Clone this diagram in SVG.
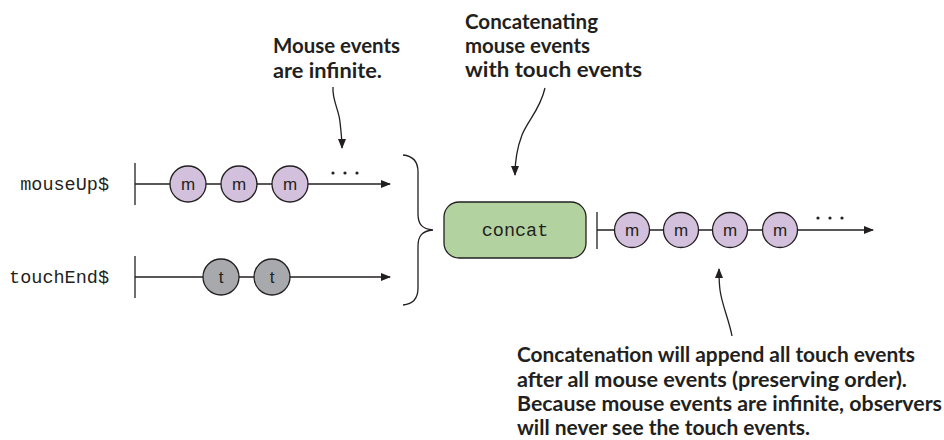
<svg xmlns="http://www.w3.org/2000/svg" width="944" height="440" viewBox="0 0 944 440">
<defs>
<marker id="ah" markerWidth="10" markerHeight="8" refX="9" refY="4" orient="auto" markerUnits="userSpaceOnUse">
<path d="M0,0 L10,4 L0,8 Z" fill="#231f20"/>
</marker>
<style>
.lbl{font-family:Lato,"Open Sans","Liberation Sans",sans-serif;font-weight:700;font-size:21px;fill:#231f20}
.mono{font-family:"Liberation Mono","DejaVu Sans Mono",monospace;font-size:18.5px;fill:#231f20}
.ev{font-family:"Liberation Sans",Arial,sans-serif;font-size:17px;fill:#231f20;text-anchor:middle}
.line{stroke:#231f20;stroke-width:1.3;fill:none}
.m{fill:#d3c0dd;stroke:#231f20;stroke-width:1.3}
.t{fill:#a7a9ac;stroke:#231f20;stroke-width:1.3}
.dots{fill:#231f20}
</style>
</defs>
<rect width="944" height="440" fill="#ffffff"/>

<g id="mouseUp">
<text class="mono" x="109" y="190" text-anchor="end">mouseUp$</text>
<line class="line" x1="135" y1="163" x2="135" y2="205"/>
<line class="line" x1="135" y1="184" x2="390" y2="184" marker-end="url(#ah)"/>
<circle class="m" cx="188" cy="184" r="18"/><text class="ev" x="188" y="190">m</text>
<circle class="m" cx="239" cy="184" r="18"/><text class="ev" x="239" y="190">m</text>
<circle class="m" cx="290" cy="184" r="18"/><text class="ev" x="290" y="190">m</text>
<circle class="dots" cx="333" cy="173" r="1.6"/><circle class="dots" cx="345" cy="173" r="1.6"/><circle class="dots" cx="357" cy="173" r="1.6"/>
</g>

<g id="touchEnd">
<text class="mono" x="109" y="283" text-anchor="end">touchEnd$</text>
<line class="line" x1="135" y1="256" x2="135" y2="298"/>
<line class="line" x1="135" y1="277" x2="390" y2="277" marker-end="url(#ah)"/>
<circle class="t" cx="221" cy="277" r="18"/><text class="ev" x="221" y="283">t</text>
<circle class="t" cx="272" cy="277" r="18"/><text class="ev" x="272" y="283">t</text>
</g>

<g id="brace">
<path class="line" d="M403,155 C414,156 418,162 418,172 L418,214 C418,224 422,229 433,230 C422,231 418,236 418,246 L418,288 C418,298 414,304 403,305"/>
</g>

<g id="concat">
<rect x="444" y="202" width="142" height="56" rx="15" fill="#b2d3a0" stroke="#231f20" stroke-width="1.3"/>
<text class="mono" x="515" y="236" text-anchor="middle">concat</text>
</g>

<g id="output">
<line class="line" x1="597" y1="212" x2="597" y2="249"/>
<line class="line" x1="597" y1="230" x2="873" y2="230" marker-end="url(#ah)"/>
<circle class="m" cx="632" cy="230" r="17.5"/><text class="ev" x="632" y="236">m</text>
<circle class="m" cx="681" cy="230" r="17.5"/><text class="ev" x="681" y="236">m</text>
<circle class="m" cx="730" cy="230" r="17.5"/><text class="ev" x="730" y="236">m</text>
<circle class="m" cx="780" cy="230" r="17.5"/><text class="ev" x="780" y="236">m</text>
<circle class="dots" cx="818" cy="218" r="1.6"/><circle class="dots" cx="830" cy="218" r="1.6"/><circle class="dots" cx="842" cy="218" r="1.6"/>
</g>

<g id="note-mouse">
<text class="lbl"><tspan x="273" y="53" textLength="127" lengthAdjust="spacingAndGlyphs">Mouse events</tspan><tspan x="273" y="78" textLength="109" lengthAdjust="spacingAndGlyphs">are infinite.</tspan></text>
</g>

<g id="note-concat">
<text class="lbl"><tspan x="465" y="29" textLength="133" lengthAdjust="spacingAndGlyphs">Concatenating</tspan><tspan x="465" y="53" textLength="125" lengthAdjust="spacingAndGlyphs">mouse events</tspan><tspan x="465" y="77" textLength="177" lengthAdjust="spacingAndGlyphs">with touch events</tspan></text>
</g>

<g id="note-result">
<text class="lbl"><tspan x="517" y="362" textLength="398" lengthAdjust="spacingAndGlyphs">Concatenation will append all touch events</tspan><tspan x="517" y="387" textLength="390" lengthAdjust="spacingAndGlyphs">after all mouse events (preserving order).</tspan><tspan x="517" y="411" textLength="425" lengthAdjust="spacingAndGlyphs">Because mouse events are infinite, observers</tspan><tspan x="517" y="435" textLength="293" lengthAdjust="spacingAndGlyphs">will never see the touch events.</tspan></text>
</g>

<g id="connectors">
<path class="line" d="M333,87 C332,100 339,110 340,122 C341,132 342,138 342,148" marker-end="url(#ah)"/>
<path class="line" d="M545,88 C540,110 528,120 522,135 C517,148 515,160 515,175" marker-end="url(#ah)"/>
<path class="line" d="M732,336 C729,320 722,305 720,290 C719,282 719,276 719,269" marker-end="url(#ah)"/>
</g>
</svg>
